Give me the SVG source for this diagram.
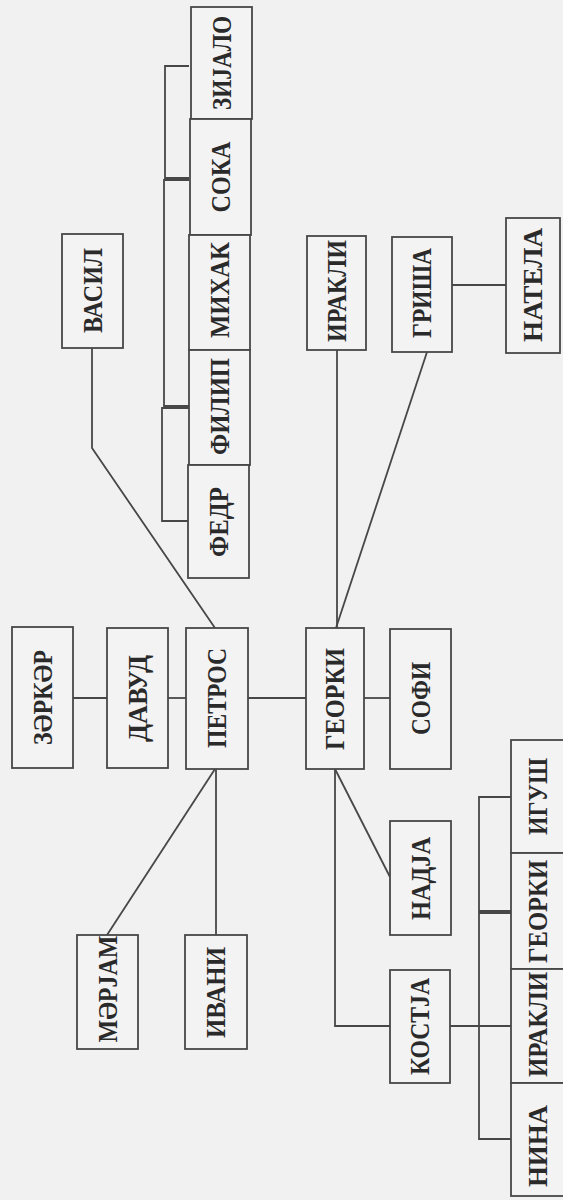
<svg xmlns="http://www.w3.org/2000/svg" width="563" height="1200" viewBox="0 0 563 1200">
<style>
.n rect{fill:#f3f3f3;stroke:#474747;stroke-width:1.8}
.n text{font-family:"Liberation Serif","DejaVu Serif",serif;font-weight:bold;font-size:27px;fill:#2a2a2a;text-anchor:middle}
.c path{fill:none;stroke:#474747;stroke-width:1.8}
</style>
<rect x="0" y="0" width="563" height="1200" fill="#f1f1f1"/>
<g class="c" id="connectors">
<path d="M73,698 H107"/>
<path d="M168,698 H186"/>
<path d="M248,698 H306"/>
<path d="M364,698 H390"/>
<path d="M92,348 V448 L215,628"/>
<path d="M337,350 V628"/>
<path d="M427,352 L336,628"/>
<path d="M452,285 H506"/>
<path d="M215,769 L107,935"/>
<path d="M216,769 V935"/>
<path d="M335,769 L390,877"/>
<path d="M335,769 V1026 H390"/>
<path d="M450,1026 H511"/>
<path d="M189,66 H165 V178 H189"/>
<path d="M189,180 H164 V406 H189"/>
<path d="M189,408 H162 V521 H189"/>
<path d="M511,797 H479 V911 H511"/>
<path d="M511,913 H479 V1139 H511"/>
</g>
<g class="n" id="zijalo"><rect x="191" y="7" width="61" height="112"/><text transform="translate(230.5,63) rotate(-90)" textLength="94" lengthAdjust="spacingAndGlyphs">ЗИЈАЛО</text></g>
<g class="n" id="soka"><rect x="190" y="119" width="61" height="116"/><text transform="translate(229.5,177) rotate(-90)" textLength="71" lengthAdjust="spacingAndGlyphs">СОКА</text></g>
<g class="n" id="mihak"><rect x="189" y="235" width="61" height="115"/><text transform="translate(228.5,290) rotate(-90)" textLength="96" lengthAdjust="spacingAndGlyphs">МИХАК</text></g>
<g class="n" id="filip"><rect x="189" y="350" width="61" height="115"/><text transform="translate(228.5,406.5) rotate(-90)" textLength="97" lengthAdjust="spacingAndGlyphs">ФИЛИП</text></g>
<g class="n" id="fedr"><rect x="188" y="465" width="61" height="113"/><text transform="translate(227.5,522) rotate(-90)" textLength="70" lengthAdjust="spacingAndGlyphs">ФЕДР</text></g>
<g class="n" id="vasil"><rect x="62" y="234" width="61" height="114"/><text transform="translate(101.5,290.5) rotate(-90)" textLength="85" lengthAdjust="spacingAndGlyphs">ВАСИЛ</text></g>
<g class="n" id="irakli-top"><rect x="307" y="236" width="59" height="114"/><text transform="translate(345.5,291) rotate(-90)" textLength="102" lengthAdjust="spacingAndGlyphs">ИРАКЛИ</text></g>
<g class="n" id="grisha"><rect x="392" y="237" width="60" height="115"/><text transform="translate(431,293) rotate(-90)" textLength="90" lengthAdjust="spacingAndGlyphs">ГРИША</text></g>
<g class="n" id="natela"><rect x="506" y="218" width="54" height="135"/><text transform="translate(542,285) rotate(-90)" textLength="114" lengthAdjust="spacingAndGlyphs">НАТЕЛА</text></g>
<g class="n" id="zarkar"><rect x="12" y="627" width="61" height="141"/><text transform="translate(51.5,697.5) rotate(-90)" textLength="95" lengthAdjust="spacingAndGlyphs">ЗӘРКӘР</text></g>
<g class="n" id="davud"><rect x="107" y="628" width="61" height="140"/><text transform="translate(146.5,698.5) rotate(-90)" textLength="87" lengthAdjust="spacingAndGlyphs">ДАВУД</text></g>
<g class="n" id="petros"><rect x="186" y="628" width="62" height="141"/><text transform="translate(226,698) rotate(-90)" textLength="100" lengthAdjust="spacingAndGlyphs">ПЕТРОС</text></g>
<g class="n" id="georki"><rect x="306" y="628" width="58" height="141"/><text transform="translate(344,699) rotate(-90)" textLength="102" lengthAdjust="spacingAndGlyphs">ГЕОРКИ</text></g>
<g class="n" id="sofi"><rect x="390" y="629" width="61" height="140"/><text transform="translate(429.5,698.5) rotate(-90)" textLength="73" lengthAdjust="spacingAndGlyphs">СОФИ</text></g>
<g class="n" id="nadja"><rect x="390" y="821" width="61" height="114"/><text transform="translate(429.5,878.5) rotate(-90)" textLength="83" lengthAdjust="spacingAndGlyphs">НАДЈА</text></g>
<g class="n" id="kostja"><rect x="390" y="970" width="60" height="113"/><text transform="translate(429,1026.5) rotate(-90)" textLength="97" lengthAdjust="spacingAndGlyphs">КОСТЈА</text></g>
<g class="n" id="marjam"><rect x="77" y="935" width="61" height="114"/><text transform="translate(117,989) rotate(-90)" textLength="107" lengthAdjust="spacingAndGlyphs">МӘРЈАМ</text></g>
<g class="n" id="ivani"><rect x="185" y="935" width="62" height="114"/><text transform="translate(225,992.5) rotate(-90)" textLength="91" lengthAdjust="spacingAndGlyphs">ИВАНИ</text></g>
<g class="n" id="igush"><rect x="511" y="740" width="53" height="113"/><text transform="translate(546.5,796.5) rotate(-90)" textLength="77" lengthAdjust="spacingAndGlyphs">ИГУШ</text></g>
<g class="n" id="georki-child"><rect x="511" y="853" width="53" height="116"/><text transform="translate(546.5,911.5) rotate(-90)" textLength="103" lengthAdjust="spacingAndGlyphs">ГЕОРКИ</text></g>
<g class="n" id="irakli-child"><rect x="511" y="969" width="53" height="114"/><text transform="translate(546.5,1024.5) rotate(-90)" textLength="105" lengthAdjust="spacingAndGlyphs">ИРАКЛИ</text></g>
<g class="n" id="nina"><rect x="511" y="1083" width="53" height="113"/><text transform="translate(546.5,1146) rotate(-90)" textLength="82" lengthAdjust="spacingAndGlyphs">НИНА</text></g>
</svg>
